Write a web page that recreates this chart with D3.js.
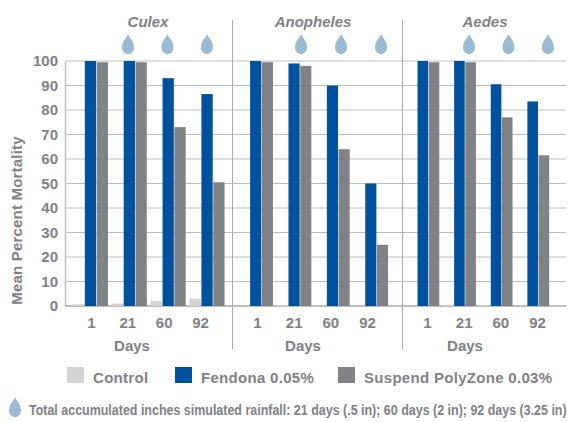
<!DOCTYPE html>
<html>
<head>
<meta charset="utf-8">
<script src="https://cdn.jsdelivr.net/npm/d3@7"></script>
<style>
  html, body { margin: 0; padding: 0; background: #fff; }
  text { font-family: "Liberation Sans", Arial, sans-serif; font-weight: bold; fill: #808285; }
</style>
</head>
<body>
<div id="chart-area"></div>
<script>
var species = ["Culex", "Anopheles", "Aedes"];
var days = ["1", "21", "60", "92"];
var treatments = ["Control", "Fendona 0.05%", "Suspend PolyZone 0.03%"];
var rainDays = ["21", "60", "92"];
var yTicks = [0, 10, 20, 30, 40, 50, 60, 70, 80, 90, 100];

var controlValues = [[0.7, 1, 2, 3], [0, 0.5, 0, 0], [0, 0.5, 0.3, 0]];
var fendonaValues = [[100, 100, 93, 86.5], [100, 99, 90, 50], [100, 100, 90.5, 83.5]];
var polyzoneValues = [[99.5, 99.5, 73, 50.5], [99.5, 98, 64, 25], [99.5, 99.5, 77, 61.5]];
var seriesValues = [controlValues, fendonaValues, polyzoneValues];

var colors = ["#d1d3d4", "#00519e", "#808285"];
var dropColor = "#9bbbd2";
var lineColor = "#bcbec0";

var svg = d3.select("#chart-area")
    .append("svg")
    .attr("width", 569)
    .attr("height", 422)
    .style("display", "block");

var y = d3.scaleLinear().domain([0, 100]).range([306, 61]);

// one band scale per panel, the groups are not spaced the same in each
var panels = [
    { bars: [71, 226.5], labels: [91, 200], title: 148, dropX: [128, 207], daysX: 132, ink: 232.5 },
    { bars: [236.5, 390], labels: [257, 367], title: 313, dropX: [301, 381], daysX: 303, ink: 402.5 },
    { bars: [404.5, 551], labels: [427, 537], title: 485, dropX: [469, 548], daysX: 465 }
];

// grid
svg.selectAll(".grid")
    .data(yTicks)
    .enter()
    .append("line")
    .attr("class", "grid")
    .attr("x1", 65)
    .attr("x2", 566)
    .attr("y1", d => y(d))
    .attr("y2", d => y(d))
    .attr("stroke", lineColor)
    .attr("stroke-width", d => d === 0 ? 2 : 1);

// dividers
svg.selectAll(".divider")
    .data(panels.filter(p => p.ink))
    .enter()
    .append("line")
    .attr("class", "divider")
    .attr("x1", d => d.ink)
    .attr("x2", d => d.ink)
    .attr("y1", 20)
    .attr("y2", 349)
    .attr("stroke", "#a7a9ac")
    .attr("stroke-width", 1);

// y axis
var yAxis = svg.append("g")
    .attr("transform", "translate(65,0)")
    .call(d3.axisLeft(y).tickValues(yTicks).tickSize(0).tickPadding(7));
yAxis.select(".domain").attr("stroke", lineColor).attr("stroke-width", 1.5);
yAxis.selectAll("text").attr("font-size", "15px").style("fill", "#808285");

svg.append("text")
    .attr("x", -220.5)
    .attr("y", 22)
    .attr("transform", "rotate(-90)")
    .attr("text-anchor", "middle")
    .attr("font-size", "15px")
    .attr("letter-spacing", "0.2px")
    .text("Mean Percent Mortality");

var dropPath = "M0,-10 C1.5,-6 6,-3 6,3.5 C6,7.5 3.2,10 0,10 C-3.2,10 -6,7.5 -6,3.5 C-6,-3 -1.5,-6 0,-10 Z";

panels.forEach(function(p, i) {
    var x = d3.scaleBand().domain(days).range(p.bars).paddingInner(0.1).paddingOuter(0.05);
    var x1 = d3.scaleBand().domain(treatments).range([0, x.bandwidth()]).paddingInner(0.05);
    var xLabel = d3.scalePoint().domain(days).range(p.labels);
    var xDrop = d3.scalePoint().domain(rainDays).range(p.dropX);

    var g = svg.append("g").attr("class", "panel");

    treatments.forEach(function(t, s) {
        g.selectAll(".bar-" + s)
            .data(seriesValues[s][i].map((v, k) => ({ day: days[k], value: v })))
            .enter()
            .append("rect")
            .attr("class", "bar-" + s)
            .attr("x", d => x(d.day) + x1(t))
            .attr("y", d => y(d.value))
            .attr("width", x1.bandwidth())
            .attr("height", d => y(0) - y(d.value))
            .attr("fill", colors[s]);
    });

    var xAxis = g.append("g")
        .attr("transform", "translate(0,317)")
        .call(d3.axisBottom(xLabel).tickSize(0).tickPadding(0));
    xAxis.select(".domain").remove();
    xAxis.selectAll("text").attr("font-size", "15px").style("fill", "#808285");

    g.append("text")
        .attr("x", p.daysX)
        .attr("y", 351)
        .attr("text-anchor", "middle")
        .attr("font-size", "15px")
        .text("Days");

    g.append("text")
        .attr("x", p.title)
        .attr("y", 27)
        .attr("text-anchor", "middle")
        .attr("font-size", "15px")
        .attr("font-style", "italic")
        .text(species[i]);

    g.selectAll(".drop")
        .data(rainDays)
        .enter()
        .append("path")
        .attr("class", "drop")
        .attr("d", dropPath)
        .attr("transform", d => "translate(" + xDrop(d) + ",44)")
        .attr("fill", dropColor);
});

// legend
var legendX = d3.scaleOrdinal().domain(treatments).range([67, 175, 338]);
var legend = svg.selectAll(".legend")
    .data(treatments)
    .enter()
    .append("g")
    .attr("class", "legend")
    .attr("transform", d => "translate(" + legendX(d) + ",367)");

legend.append("rect")
    .attr("width", 17)
    .attr("height", 16)
    .attr("fill", (d, i) => colors[i]);

legend.append("text")
    .attr("x", 26)
    .attr("y", 16)
    .attr("font-size", "15px")
    .attr("letter-spacing", "0.3px")
    .text(d => d);

// rainfall note, squeezed to fit like the condensed type in the original
svg.append("path")
    .attr("d", dropPath)
    .attr("transform", "translate(15,407)")
    .attr("fill", dropColor);

var note = svg.append("text")
    .attr("font-size", "15px")
    .text("Total accumulated inches simulated rainfall: 21 days (.5 in); 60 days (2 in); 92 days (3.25 in)");

note.attr("transform", "translate(29,415) scale(" + (538 / note.node().getComputedTextLength()) + ",1)");
</script>
</body>
</html>
